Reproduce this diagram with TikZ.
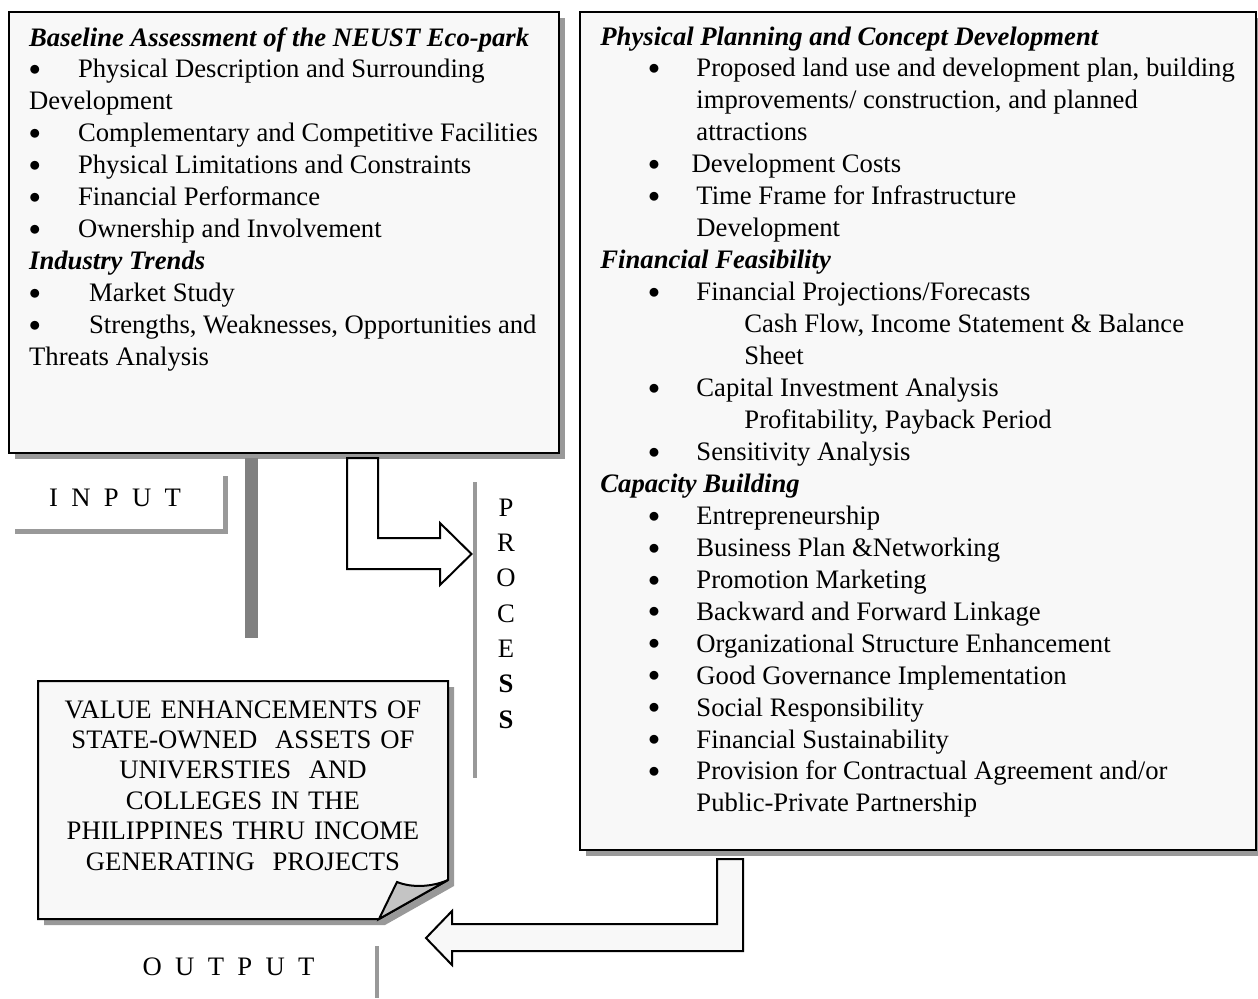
\documentclass[tikz,border=0pt]{standalone}
\usepackage{fontspec}
\setmainfont{Liberation Serif}
\usetikzlibrary{fit,shadows}

\definecolor{boxgray}{HTML}{F8F8F8}
\definecolor{shadowgray}{HTML}{999999}
\definecolor{bargray}{HTML}{999999}
\definecolor{darkbar}{HTML}{808080}
\definecolor{foldgray}{HTML}{C4C4C4}

% bullet: indent, then box holding the bullet
\newcommand{\dotmark}{\raisebox{1pt}{\scalebox{0.86}{$\bullet$}}}
\newcommand{\bul}[2]{\hspace*{#1}\makebox[#2][l]{\dotmark}}
\newcommand{\head}[1]{\textbf{\textit{#1}}}

\tikzset{
  frame/.style={draw=black, line width=0.7pt, fill=boxgray, inner sep=0pt,
    drop shadow={shadow xshift=2.7pt, shadow yshift=-2.7pt, fill=shadowgray, opacity=1}},
  body/.style={anchor=base west, inner sep=0pt, align=flush left,
    font=\fontsize{12}{14.38}\selectfont},
  label/.style={anchor=base, inner sep=0pt, font=\fontsize{12}{14}\selectfont},
  bar/.style={fill=bargray, draw=none},
  blockarrow/.style={draw=black, line width=0.9pt, line join=miter},
  note/.style={draw=black, line width=0.9pt, fill=boxgray},
}

\begin{document}
\begin{tikzpicture}[x=0.45pt, y=-0.45pt]
    \useasboundingbox (0,0) rectangle (1258,998);

    % input box
    \node[frame, fit={(9,12) (559,453)}] (inbox) {};
    \node[body, text width=245pt] (intext) at (28.7,46) {%
        \head{Baseline Assessment of the NEUST Eco-park}\\
        \bul{0pt}{22pt}Physical Description and Surrounding\\
        Development\\
        \bul{0pt}{22pt}Complementary and Competitive Facilities\\
        \bul{0pt}{22pt}Physical Limitations and Constraints\\
        \bul{0pt}{22pt}Financial Performance\\
        \bul{0pt}{22pt}Ownership and Involvement\\
        \head{Industry Trends}\\
        \bul{0pt}{27pt}Market Study\\
        \bul{0pt}{27pt}Strengths, Weaknesses, Opportunities and\\
        Threats Analysis};

    % process box
    \node[frame, fit={(580,12) (1256,850)}] (procbox) {};
    \node[body, text width=300pt] (proctext) at (600,45) {%
        \head{Physical Planning and Concept Development}\\
        \bul{21.6pt}{21.6pt}Proposed land use and development plan, building\\
        \hspace*{43.2pt}improvements/ construction, and planned\\
        \hspace*{43.2pt}attractions\\
        \bul{21.6pt}{19.4pt}Development Costs\\
        \bul{21.6pt}{21.6pt}Time Frame for Infrastructure\\
        \hspace*{43.2pt}Development\\
        \head{Financial Feasibility}\\
        \bul{21.6pt}{21.6pt}Financial Projections/Forecasts\\
        \hspace*{64.8pt}Cash Flow, Income Statement \& Balance\\
        \hspace*{64.8pt}Sheet\\
        \bul{21.6pt}{21.6pt}Capital Investment Analysis\\
        \hspace*{64.8pt}Profitability, Payback Period\\
        \bul{21.6pt}{21.6pt}Sensitivity Analysis\\
        \head{Capacity Building}\\
        \bul{21.6pt}{21.6pt}Entrepreneurship\\
        \bul{21.6pt}{21.6pt}Business Plan \&Networking\\
        \bul{21.6pt}{21.6pt}Promotion Marketing\\
        \bul{21.6pt}{21.6pt}Backward and Forward Linkage\\
        \bul{21.6pt}{21.6pt}Organizational Structure Enhancement\\
        \bul{21.6pt}{21.6pt}Good Governance Implementation\\
        \bul{21.6pt}{21.6pt}Social Responsibility\\
        \bul{21.6pt}{21.6pt}Financial Sustainability\\
        \bul{21.6pt}{21.6pt}Provision for Contractual Agreement and/or\\
        \hspace*{43.2pt}Public-Private Partnership};

    % gray bars
    \fill[darkbar] (245,458) rectangle (258,638);
    \fill[bar] (223,476) rectangle (228,534);
    \fill[bar] (15,529) rectangle (228,534);
    \fill[bar] (473,482) rectangle (477,778);
    \fill[bar] (375,946) rectangle (379,998);

    % labels
    \node[label] (inputlabel) at (115,506) {I~~N~~P~~U~~T};
    \node[label] (outputlabel) at (228.5,975) {O~~U~~T~~P~~U~~T};
    \node[body, anchor=base, text width=20pt, align=center,
          font=\fontsize{12}{15.9}\selectfont] (processlabel) at (506,516)
        {P\\R\\O\\C\\E\\\textbf{S}\\\textbf{S}};

    % bent arrow input -> process
    \filldraw[blockarrow, fill=white] (347,458) -- (378,458) -- (378,538)
        -- (440,538) -- (440,523) -- (471.5,554) -- (440,585) -- (440,569)
        -- (347,569) -- cycle;

    % bent arrow process -> output
    \filldraw[blockarrow, fill=boxgray] (717,859) -- (743,859) -- (743,951)
        -- (452,951) -- (452,965) -- (426,938) -- (452,911) -- (452,924)
        -- (717,924) -- cycle;

    % output note with folded corner
    \fill[shadowgray, shift={(6,6)}] (38,681) -- (448,681) -- (448,880)
        -- (379,919) -- (38,919) -- cycle;
    \draw[note] (38,681) -- (448,681) -- (448,880) -- (379,919)
        -- (38,919) -- cycle;
    \filldraw[note, fill=foldgray] (379,919) -- (397,882)
        .. controls (412,888) and (432,887) .. (448,880) -- cycle;
    \node[body, anchor=base, text width=200pt, align=center,
          font=\fontsize{12}{13.7}\selectfont] (outtext) at (243,718) {%
        VALUE ENHANCEMENTS OF\\
        STATE-OWNED~ ASSETS OF\\
        UNIVERSTIES~ AND\\
        COLLEGES IN THE\\
        PHILIPPINES THRU INCOME\\
        GENERATING~ PROJECTS};
\end{tikzpicture}
\end{document}
